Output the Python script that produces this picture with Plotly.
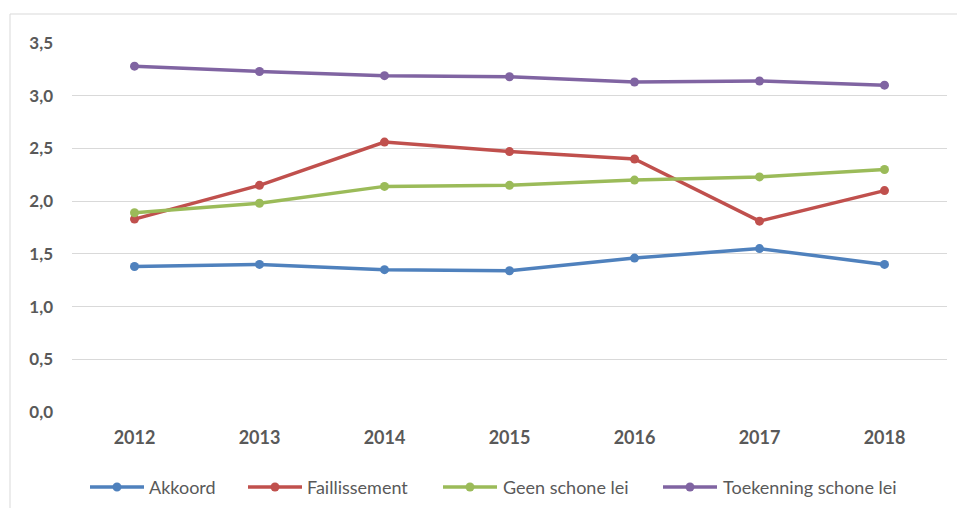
import plotly.graph_objects as go

years = ["2012", "2013", "2014", "2015", "2016", "2017", "2018"]
akkoord = [1.38, 1.40, 1.35, 1.34, 1.46, 1.55, 1.40]
faillissement = [1.83, 2.15, 2.56, 2.47, 2.40, 1.81, 2.10]
geen_schone_lei = [1.89, 1.98, 2.14, 2.15, 2.20, 2.23, 2.30]
toekenning_schone_lei = [3.28, 3.23, 3.19, 3.18, 3.13, 3.14, 3.10]

series_names = ["Akkoord", "Faillissement", "Geen schone lei", "Toekenning schone lei"]
series_values = [akkoord, faillissement, geen_schone_lei, toekenning_schone_lei]
series_colors = ["#4F81BD", "#C0504D", "#9BBB59", "#8064A2"]

# layout geometry (page pixels; the page body adds an 8px offset)
W, H = 950, 500
ML, MR, MT, MB = 64, 11, 35, 96
OFF = 8
PW, PH = W - ML - MR, H - MT - MB
left_px, bottom_px = OFF + ML, OFF + H - MB

def px_x(px):
    return (px - left_px) / PW

def px_y(py):
    return (bottom_px - py) / PH

legend_line_px = [90, 248, 443, 663]
legend_text_px = [148, 306, 502, 722]
legend_line_len = 54
legend_y_px = 487

fig = go.Figure()
for name, vals, col in zip(series_names, series_values, series_colors):
    fig.add_trace(go.Scatter(
        x=years, y=vals, name=name, mode="lines+markers",
        line=dict(color=col, width=3.5),
        marker=dict(color=col, size=9),
        showlegend=False,
    ))

shapes = [dict(type="rect", xref="paper", yref="paper", x0=px_x(10), x1=px_x(1000),
               y0=px_y(560), y1=px_y(14), line=dict(color="#D9D9D9", width=1),
               fillcolor="rgba(0,0,0,0)", layer="below")]
annotations = []
ly = px_y(legend_y_px)
for name, col, lx, tx in zip(series_names, series_colors, legend_line_px, legend_text_px):
    shapes.append(dict(type="line", xref="paper", yref="paper",
                       x0=px_x(lx), x1=px_x(lx + legend_line_len), y0=ly, y1=ly,
                       line=dict(color=col, width=3.5)))
    shapes.append(dict(type="circle", xref="paper", yref="paper",
                       xsizemode="pixel", ysizemode="pixel",
                       xanchor=px_x(lx + legend_line_len / 2), yanchor=ly,
                       x0=-4.5, x1=4.5, y0=-4.5, y1=4.5,
                       fillcolor=col, line=dict(width=0)))
    annotations.append(dict(text=name, xref="paper", yref="paper", x=px_x(tx), y=ly,
                            xanchor="left", yanchor="middle", showarrow=False,
                            borderpad=0,
                            font=dict(family="Lato, sans-serif", size=18, color="#595959")))

fig.update_layout(
    width=W, height=H,
    margin=dict(l=ML, r=MR, t=MT, b=MB),
    paper_bgcolor="white", plot_bgcolor="white",
    separators=",.",
    font=dict(family="Lato, Open Sans, sans-serif", color="#595959", size=16),
    showlegend=False,
    xaxis=dict(type="category", range=[-0.5, 6.5], showgrid=False, zeroline=False,
               showline=False, ticks="", ticklabelstandoff=13,
               tickfont=dict(family="Lato, sans-serif", size=18, color="#595959", weight="bold")),
    yaxis=dict(range=[0, 3.5], dtick=0.5, tick0=0, tickformat=".1f", showgrid=True,
               gridcolor="#D9D9D9", gridwidth=1, zeroline=False, showline=False, ticks="",
               ticklabelstandoff=18,
               tickfont=dict(family="Lato, sans-serif", size=17, color="#595959", weight="bold")),
    shapes=shapes,
    annotations=annotations,
)

fig.write_html("out.html")
